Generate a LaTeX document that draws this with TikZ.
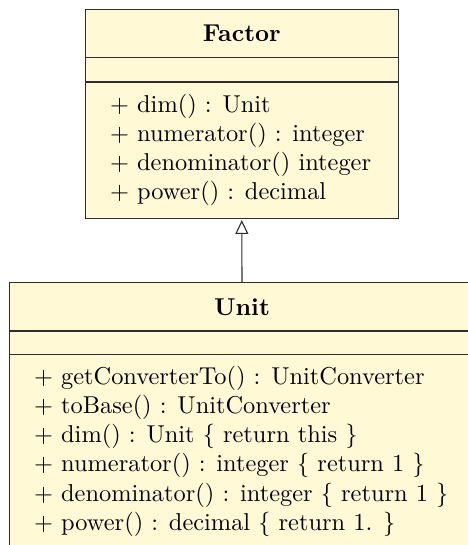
\documentclass[tikz,border=0pt]{standalone}
\usetikzlibrary{arrows.meta}
\definecolor{umlfill}{RGB}{255,249,214}
\definecolor{umlline}{RGB}{45,45,45}
\tikzset{
  compartment/.style={draw=umlline, fill=umlfill, line width=0.45pt, inner sep=0pt, outer sep=0pt, anchor=north, font=\bfseries},
  opline/.style={anchor=base west, inner sep=0pt, font=\fontsize{10}{12}\selectfont},
  inherit/.style={draw=umlline, line width=0.45pt, -{Triangle[open, length=5.7pt, width=5.3pt]}, shorten >=0.8pt}
}
\begin{document}
\begin{tikzpicture}[x=0.41pt, y=-0.41pt]
\useasboundingbox (0,0) rectangle (468,545);
\clip (0,0) rectangle (468,545);
% Factor class
\node[compartment, minimum width=128.3pt, minimum height=19.7pt] (ftitle) at (241.8,9.3) {Factor};
\node[compartment, minimum width=128.3pt, minimum height=10.1pt] (fattr) at (ftitle.south) {};
\node[compartment, minimum width=128.3pt, minimum height=55.8pt] (fops) at (fattr.south) {};
\node[opline] (f1) at (109.6,112) {$+$ dim() : Unit};
\node[opline] (f2) at (109.6,141.3) {$+$ numerator() : integer};
\node[opline] (f3) at (109.6,170.6) {$+$ denominator() integer};
\node[opline] (f4) at (109.6,199.9) {$+$ power() : decimal};
% Unit class
\node[compartment, minimum width=190.7pt, minimum height=19.9pt] (utitle) at (242,282.5) {Unit};
\node[compartment, minimum width=190.7pt, minimum height=9.8pt] (uattr) at (utitle.south) {};
\node[compartment, minimum width=190.7pt, minimum height=80.4pt] (uops) at (uattr.south) {};
\node[opline] (u1) at (33.6,384) {$+$ getConverterTo() : UnitConverter};
\node[opline] (u2) at (33.6,413.3) {$+$ toBase() : UnitConverter};
\node[opline] (u3) at (33.6,442.6) {$+$ dim() : Unit $\{$ return this $\}$};
\node[opline] (u4) at (33.6,471.9) {$+$ numerator() : integer $\{$ return 1 $\}$};
\node[opline] (u5) at (33.6,501.2) {$+$ denominator() : integer $\{$ return 1 $\}$};
\node[opline] (u6) at (33.6,530.5) {$+$ power() : decimal $\{$ return 1. $\}$};
% generalization
\draw[inherit] (utitle.north) -- (fops.south);
\end{tikzpicture}
\end{document}
